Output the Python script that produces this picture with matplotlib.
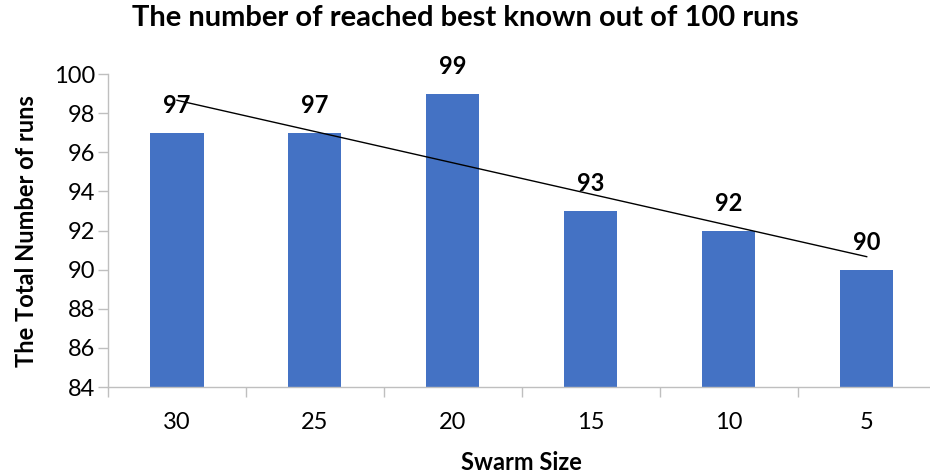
import numpy as np
import matplotlib.pyplot as plt

plt.rcParams['font.family'] = ['Lato', 'DejaVu Sans']

swarm = ['30', '25', '20', '15', '10', '5']
runs = [97, 97, 99, 93, 92, 90]

x = np.arange(len(swarm))
fig = plt.figure(figsize=(9.3, 4.74), dpi=100)
ax = fig.add_axes([0.1161, 0.1835, 0.890, 0.660])

ax.bar(x, runs, width=0.385, color='#4472C4', zorder=2)

# linear trendline like excel
k, b = np.polyfit(x, runs, 1)
ax.plot(x, k * x + b, color='black', lw=1, zorder=3)

for xi, v in zip(x, runs):
    ax.text(xi, v + 1.4, str(v), ha='center', va='center',
            fontsize=17, fontweight='bold', zorder=4)

ax.set_ylim(84, 100)
ax.set_yticks(range(84, 101, 2))
ax.set_xlim(-0.5, len(swarm) - 0.5)
ax.set_xticks(x)
ax.set_xticklabels(swarm)
ax.set_xticks(np.arange(-0.5, len(swarm), 1), minor=True)
ax.tick_params(axis='x', which='major', length=0, pad=18, labelsize=17)
ax.tick_params(axis='x', which='minor', length=7, color='#BFBFBF', width=1)
ax.tick_params(axis='y', length=7, color='#BFBFBF', width=1, labelsize=17, pad=2)

for s in ['top', 'right']:
    ax.spines[s].set_visible(False)
for s in ['left', 'bottom']:
    ax.spines[s].set_color('#BFBFBF')
    ax.spines[s].set_linewidth(1)

ax.set_xlabel('Swarm Size', fontsize=17, fontweight='bold', labelpad=13)
ax.set_ylabel('The Total Number of runs', fontsize=17, fontweight='bold', labelpad=12)
fig.suptitle('The number of reached best known out of 100 runs', x=0.5, y=0.99,
             fontsize=21, fontweight='bold')

fig.savefig('out.png', dpi=100)
